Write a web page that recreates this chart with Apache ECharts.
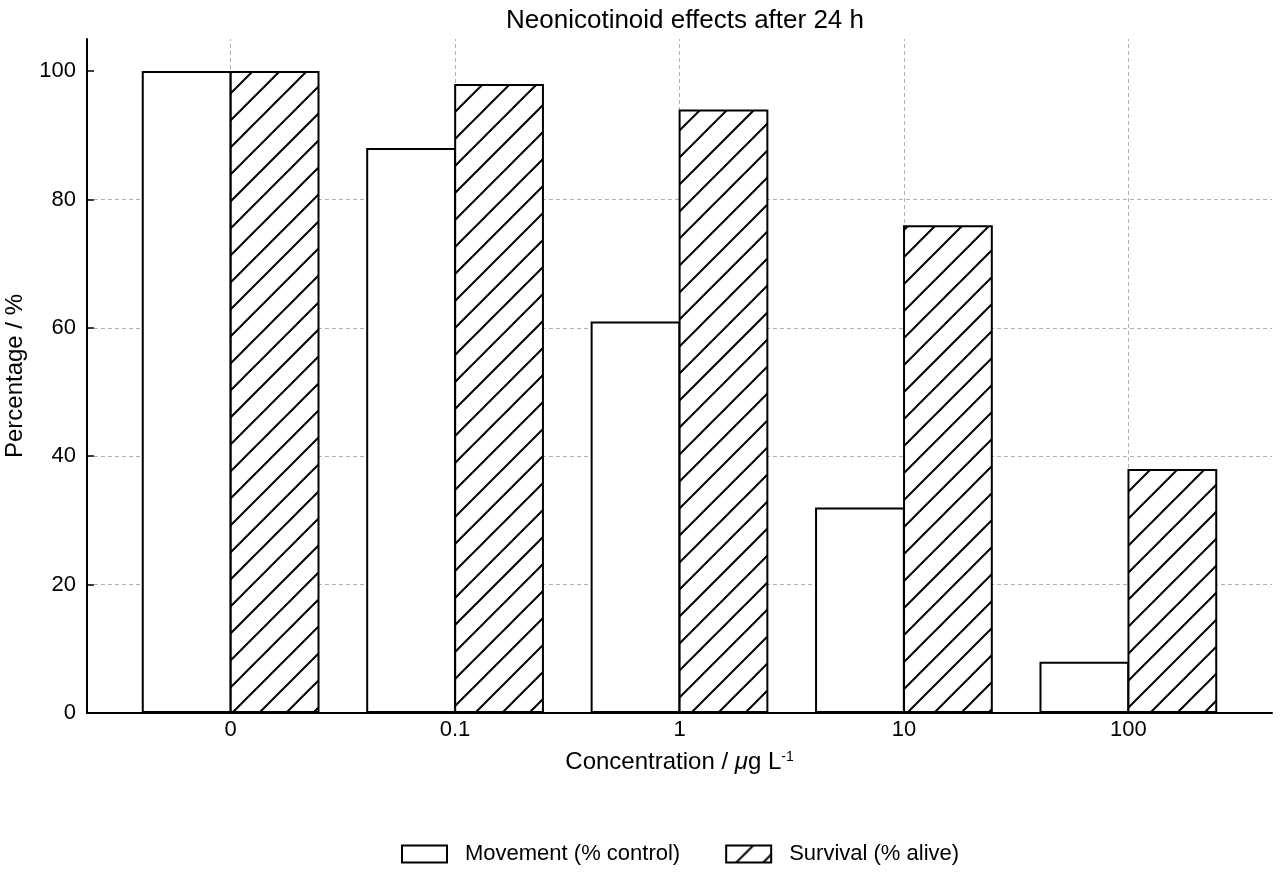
<!DOCTYPE html>
<html><head><meta charset="utf-8">
<script src="https://cdn.jsdelivr.net/npm/echarts@6/dist/echarts.min.js"></script>
<style>html,body{margin:0;padding:0;background:#fff}#c{width:1280px;height:880px}</style>
</head><body><div id="c"></div>
<script>
const categories = ['0', '0.1', '1', '10', '100'];
const movement = [100, 88, 61, 32, 8];
const survival = [100, 98, 94, 76, 38];
const yTicks = [0, 20, 40, 60, 80, 100];
const seriesNames = ['Movement (% control)', 'Survival (% alive)'];

function hatch() {
  const s = 27;
  const c = document.createElement('canvas');
  c.width = s; c.height = s;
  const g = c.getContext('2d');
  g.fillStyle = '#fff'; g.fillRect(0, 0, s, s);
  g.strokeStyle = '#000'; g.lineWidth = 2; g.lineCap = 'butt';
  g.beginPath(); g.moveTo(-3, s + 3); g.lineTo(s + 3, -3); g.stroke();
  g.beginPath(); g.moveTo(-3, 3); g.lineTo(3, -3); g.stroke();
  g.beginPath(); g.moveTo(s - 3, s + 3); g.lineTo(s + 3, s - 3); g.stroke();
  return c;
}

const FONT = 'Liberation Sans, Arial, Helvetica, sans-serif';
const idx = categories.map((c, i) => i);
const gridDash = { color: '#b0b0b0', width: 1, type: [4, 3] };

const chart = echarts.init(document.getElementById('c'), null, { renderer: 'canvas' });
chart.setOption({
  backgroundColor: '#fff',
  animation: false,
  textStyle: { fontFamily: FONT, color: '#000' },
  title: {
    text: 'Neonicotinoid effects after 24 h',
    left: 680, top: 3, textAlign: 'center',
    textStyle: { fontSize: 26, fontWeight: 'normal', color: '#000', fontFamily: FONT }
  },
  legend: {
    left: 401, top: 843, padding: 0,
    itemWidth: 45, itemHeight: 17, itemGap: 45,
    icon: 'rect',
    textStyle: { fontSize: 22, color: '#000', fontFamily: FONT, padding: [0, 0, 0, 13] },
    data: seriesNames
  },
  grid: { left: 87, right: 8, top: 39, bottom: 167, outerBoundsMode: 'none', containLabel: false },
  xAxis: {
    type: 'value', min: -0.64, max: 4.64,
    name: 'Concentration / {i|μ}g L{sup|-1}',
    nameLocation: 'middle', nameGap: 37,
    nameTextStyle: {
      fontSize: 24, color: '#000', fontFamily: FONT,
      rich: {
        i: { fontSize: 24, fontStyle: 'italic', fontFamily: FONT, color: '#000' },
        sup: { fontSize: 14, verticalAlign: 'top', fontFamily: FONT, color: '#000', padding: [0, 0, 9, 0] }
      }
    },
    axisLine: { show: true, onZero: false, lineStyle: { color: '#000', width: 2 } },
    axisTick: { show: true, inside: true, length: 7, customValues: idx, lineStyle: { color: '#000', width: 1.5 } },
    axisLabel: { customValues: idx, formatter: v => categories[Math.round(v)], fontSize: 22, color: '#000', margin: 6, fontFamily: FONT },
    splitLine: { show: false }
  },
  yAxis: {
    type: 'value', min: 0, max: 105, interval: 20,
    name: 'Percentage / %', nameLocation: 'middle', nameGap: 60, nameRotate: 90,
    nameTextStyle: { fontSize: 24, color: '#000', fontFamily: FONT },
    axisLine: { show: true, onZero: false, lineStyle: { color: '#000', width: 2 } },
    axisTick: { show: true, inside: true, length: 7, customValues: yTicks, lineStyle: { color: '#000', width: 1.5 } },
    axisLabel: { customValues: yTicks, fontSize: 22, color: '#000', margin: 11, fontFamily: FONT },
    splitLine: { show: true, showMinLine: false, showMaxLine: false, lineStyle: gridDash }
  },
  series: [
    {
      name: 'grid', type: 'line', data: [], silent: true,
      markLine: {
        silent: true, symbol: 'none', z: 1,
        label: { show: false },
        lineStyle: gridDash,
        data: idx.map(i => ({ xAxis: i }))
      }
    },
    {
      name: seriesNames[0], type: 'bar',
      data: movement.map((v, i) => [i, v]),
      barWidth: '40%', barGap: '-2%',
      itemStyle: { color: '#fff', borderColor: '#000', borderWidth: 2 }
    },
    {
      name: seriesNames[1], type: 'bar',
      data: survival.map((v, i) => [i, v]),
      barWidth: '40%', barGap: '-2%',
      itemStyle: { color: { image: hatch(), repeat: 'repeat' }, borderColor: '#000', borderWidth: 2 }
    }
  ]
});
</script>
</body></html>
